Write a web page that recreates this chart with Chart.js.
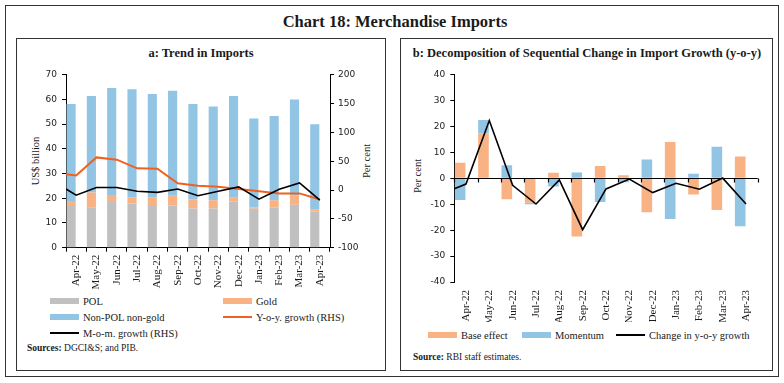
<!DOCTYPE html>
<html>
<head>
<meta charset="utf-8">
<script src="https://cdn.jsdelivr.net/npm/chart.js@4.4.1/dist/chart.umd.min.js"></script>
<style>
  html, body { margin: 0; padding: 0; background: #fff; }
  body { width: 784px; height: 383px; position: relative; overflow: hidden; font-family: "Liberation Serif", "DejaVu Serif", serif; color: #1a1a1a; }
  .abs { position: absolute; }
  .frame { position: absolute; border: 1.3px solid #333; box-sizing: border-box; }
  .ctr { position: absolute; transform: translate(-50%, -50%); white-space: nowrap; }
  .rot { position: absolute; transform: translate(-50%, -50%) rotate(-90deg); white-space: nowrap; font-size: 10.5px; }
  .lg { position: absolute; white-space: nowrap; font-size: 10.5px; transform: translateY(-50%); }
  .sw { position: absolute; transform: translateY(-50%); }
  canvas { position: absolute; }
</style>
</head>
<body>
<div class="frame" style="left:5px;top:5px;width:774px;height:372px;"></div>
<div class="frame" style="left:16px;top:38px;width:370px;height:333px;"></div>
<div class="frame" style="left:400px;top:38px;width:373px;height:333px;"></div>

<div class="ctr" style="left:395px;top:22px;font-size:16.5px;font-weight:bold;">Chart 18: Merchandise Imports</div>
<div class="ctr" style="left:201px;top:53px;font-size:12.5px;font-weight:bold;">a: Trend in Imports</div>
<div class="ctr" style="left:587px;top:53px;font-size:12.5px;font-weight:bold;">b: Decomposition of Sequential Change in Import Growth (y-o-y)</div>

<div class="rot" style="left:35px;top:161px;">US$ billion</div>
<div class="rot" style="left:366px;top:161px;">Per cent</div>
<div class="rot" style="left:417px;top:176px;">Per cent</div>

<canvas id="c1" width="370" height="235" style="left:16px;top:60px;"></canvas>
<canvas id="c2" width="372" height="262" style="left:400px;top:60px;"></canvas>

<div id="leg1"></div>
<div id="leg2"></div>

<div class="lg" style="left:27px;top:348px;font-size:9.5px;"><b>Sources:</b> DGCI&amp;S; and PIB.</div>
<div class="lg" style="left:413px;top:357px;font-size:9.5px;"><b>Source:</b> RBI staff estimates.</div>

<script>
// ---------------- DATA ----------------
const months = ['Apr-22','May-22','Jun-22','Jul-22','Aug-22','Sep-22','Oct-22','Nov-22','Dec-22','Jan-23','Feb-23','Mar-23','Apr-23'];

// Panel a: US$ billion
const pol           = [17.3, 16.2, 18.5, 17.9, 16.9, 17.1, 15.9, 15.9, 18.7, 15.8, 16.3, 17.4, 14.6];
const gold          = [ 1.6,  6.1,  2.8,  2.5,  3.5,  3.9,  3.7,  3.3,  1.5,  0.5,  2.9,  3.6,  1.0];
const nonPolNonGold = [39.2, 39.1, 43.3, 43.7, 41.8, 42.5, 38.5, 37.9, 41.2, 36.0, 34.1, 39.0, 34.4];
// Per cent (RHS); the line starts at the left edge of the plot with a leading value
const yoyStart  = 27.2;
const yoyGrowth = [25.4, 56.6, 52.6, 37.6, 37.0, 11.6, 7.5, 5.8, 1.8, -2.0, -5.8, -5.8, -16.5];
const momStart  = 1.8;
const momGrowth = [-9.0, 4.3, 4.3, -2.0, -4.0, 1.7, -9.8, -2.0, 5.5, -15.8, 1.5, 12.2, -17.6];

// Panel b: per cent
const baseEffect = [6.0, 17.4, -8.1, -9.4, 2.2, -22.4, 4.8, 1.2, -13.1, 14.0, -6.2, -12.2, 8.4];
const momentum   = [-8.4, 5.1, 5.1, -0.6, -3.1, 2.3, -9.1, -1.5, 7.3, -15.7, 1.8, 12.2, -18.5];
const changeStart = -4.0;
const changeYoy   = [-2.2, 22.3, -2.7, -9.9, -0.6, -19.8, -4.1, -0.3, -5.5, -1.9, -4.2, 0.1, -9.9];

const leftTicks  = [0, 10, 20, 30, 40, 50, 60, 70];
const rightTicks = [-100, -50, 0, 50, 100, 150, 200];
const bTicks     = [-40, -30, -20, -10, 0, 10, 20, 30, 40];

// ---------------- STYLE ----------------
const C_POL = '#c0c0c0', C_GOLD = '#f9b284', C_NPNG = '#92c4e4', C_YOY = '#f2601f', C_MOM = '#000000';
const C_BASE = '#f9b284', C_MOMT = '#92c4e4';
const tickFont = { family: 'DejaVu Sans', size: 9 };
const labFont = { family: 'Liberation Serif', size: 11 };

function linePoints(start, arr) {
  const pts = [{ x: -0.5, y: start }];
  arr.forEach((v, i) => pts.push({ x: i, y: v }));
  return pts;
}

// ---------------- CHART A ----------------
new Chart(document.getElementById('c1'), {
  data: {
    labels: months,
    datasets: [
      { type: 'bar', label: 'POL', data: pol, backgroundColor: C_POL, order: 2, stack: 's', barPercentage: 0.9, categoryPercentage: 1 },
      { type: 'bar', label: 'Gold', data: gold, backgroundColor: C_GOLD, order: 2, stack: 's', barPercentage: 0.9, categoryPercentage: 1 },
      { type: 'bar', label: 'Non-POL non-gold', data: nonPolNonGold, backgroundColor: C_NPNG, order: 2, stack: 's', barPercentage: 0.9, categoryPercentage: 1 },
      { type: 'line', label: 'Y-o-y. growth (RHS)', data: linePoints(yoyStart, yoyGrowth), xAxisID: 'xl', yAxisID: 'y2', borderColor: C_YOY, borderWidth: 2, pointRadius: 0, tension: 0, order: 1 },
      { type: 'line', label: 'M-o-m. growth (RHS)', data: linePoints(momStart, momGrowth), xAxisID: 'xl', yAxisID: 'y2', borderColor: C_MOM, borderWidth: 1.6, pointRadius: 0, tension: 0, order: 0 }
    ]
  },
  options: {
    responsive: false, animation: false, devicePixelRatio: 1,
    layout: { padding: { top: 14.7, left: 0, right: 0, bottom: 0 } },
    plugins: { legend: { display: false }, tooltip: { enabled: false } },
    scales: {
      x: {
        type: 'category', stacked: true, offset: true,
        grid: { display: true, drawOnChartArea: false, offset: true, tickLength: 4, color: '#000' },
        border: { display: true, color: '#000', width: 1 },
        ticks: { autoSkip: false, minRotation: 90, maxRotation: 90, padding: 3, color: '#1a1a1a', font: labFont },
        afterFit: s => { s.height = 47.3; }
      },
      xl: { type: 'linear', display: false, min: -0.5, max: 12.5 },
      y: {
        stacked: true, min: 0, max: 70, position: 'left',
        afterBuildTicks: s => { s.ticks = leftTicks.map(v => ({ value: v })); },
        grid: { display: true, drawOnChartArea: false, tickLength: 4, color: '#000' },
        border: { display: true, color: '#000', width: 1 },
        ticks: { padding: 5, color: '#222', font: tickFont },
        afterFit: s => { s.width = 50; }
      },
      y2: {
        min: -100, max: 200, position: 'right',
        afterBuildTicks: s => { s.ticks = rightTicks.map(v => ({ value: v })); },
        grid: { display: true, drawOnChartArea: false, tickLength: 4, color: '#000' },
        border: { display: true, color: '#000', width: 1 },
        ticks: { padding: 4, color: '#222', font: tickFont },
        afterFit: s => { s.width = 56; }
      }
    }
  }
});

// ---------------- CHART B ----------------
const zeroLine = {
  id: 'zeroLine',
  afterDatasetsDraw(chart) {
    const { ctx, chartArea, scales } = chart;
    const y0 = Math.round(scales.y.getPixelForValue(0)) + 0.5;
    const n = months.length;
    const w = (chartArea.right - chartArea.left) / n;
    ctx.save();
    ctx.strokeStyle = '#000';
    ctx.lineWidth = 1.2;
    ctx.beginPath();
    ctx.moveTo(chartArea.left, y0);
    ctx.lineTo(chartArea.right, y0);
    for (let i = 0; i <= n; i++) {
      const x = Math.round(scales.x.getPixelForValue(0) - w / 2 + i * w) + 0.5;
      ctx.moveTo(x, y0);
      ctx.lineTo(x, y0 + 4);
    }
    ctx.stroke();
    ctx.restore();
  }
};

new Chart(document.getElementById('c2'), {
  data: {
    labels: months,
    datasets: [
      { type: 'bar', label: 'Base effect', data: baseEffect, backgroundColor: C_BASE, order: 2, stack: 's', barPercentage: 0.91, categoryPercentage: 1 },
      { type: 'bar', label: 'Momentum', data: momentum, backgroundColor: C_MOMT, order: 2, stack: 's', barPercentage: 0.91, categoryPercentage: 1 },
      { type: 'line', label: 'Change in y-o-y growth', data: linePoints(changeStart, changeYoy), xAxisID: 'xl', yAxisID: 'y', borderColor: '#000', borderWidth: 1.6, pointRadius: 0, tension: 0, order: 0 }
    ]
  },
  options: {
    responsive: false, animation: false, devicePixelRatio: 1,
    layout: { padding: { top: 14.7, left: 0, right: 14.3, bottom: 0 } },
    plugins: { legend: { display: false }, tooltip: { enabled: false } },
    scales: {
      x: {
        type: 'category', stacked: true, offset: true,
        grid: { display: false, drawTicks: false },
        border: { display: false },
        ticks: { autoSkip: false, minRotation: 90, maxRotation: 90, padding: 8, color: '#1a1a1a', font: labFont },
        afterFit: s => { s.height = 40; }
      },
      xl: { type: 'linear', display: false, min: -0.5, max: 12.5 },
      y: {
        stacked: true, min: -40, max: 40, position: 'left',
        afterBuildTicks: s => { s.ticks = bTicks.map(v => ({ value: v })); },
        grid: { display: true, drawOnChartArea: false, tickLength: 4, color: '#000' },
        border: { display: true, color: '#000', width: 1 },
        ticks: { padding: 5, color: '#222', font: tickFont },
        afterFit: s => { s.width = 54.3; }
      }
    }
  },
  plugins: [zeroLine]
});

// ---------------- LEGENDS (HTML) ----------------
function addItem(host, x, y, color, kind, text) {
  const sw = document.createElement('div');
  sw.className = 'sw';
  sw.style.left = x + 'px';
  sw.style.top = y + 'px';
  sw.style.width = '29px';
  sw.style.height = kind === 'box' ? '6px' : '2px';
  sw.style.background = color;
  host.appendChild(sw);
  const t = document.createElement('div');
  t.className = 'lg';
  t.style.left = (x + 33) + 'px';
  t.style.top = y + 'px';
  t.textContent = text;
  host.appendChild(t);
}
const l1 = document.getElementById('leg1');
addItem(l1, 50, 301, C_POL, 'box', 'POL');
addItem(l1, 223, 301, C_GOLD, 'box', 'Gold');
addItem(l1, 50, 317, C_NPNG, 'box', 'Non-POL non-gold');
addItem(l1, 223, 317, C_YOY, 'line', 'Y-o-y. growth (RHS)');
addItem(l1, 50, 333, C_MOM, 'line', 'M-o-m. growth (RHS)');
const l2 = document.getElementById('leg2');
addItem(l2, 428, 335, C_BASE, 'box', 'Base effect');
addItem(l2, 522, 335, C_MOMT, 'box', 'Momentum');
addItem(l2, 616, 335, '#000', 'line', 'Change in y-o-y growth');
</script>
</body>
</html>
